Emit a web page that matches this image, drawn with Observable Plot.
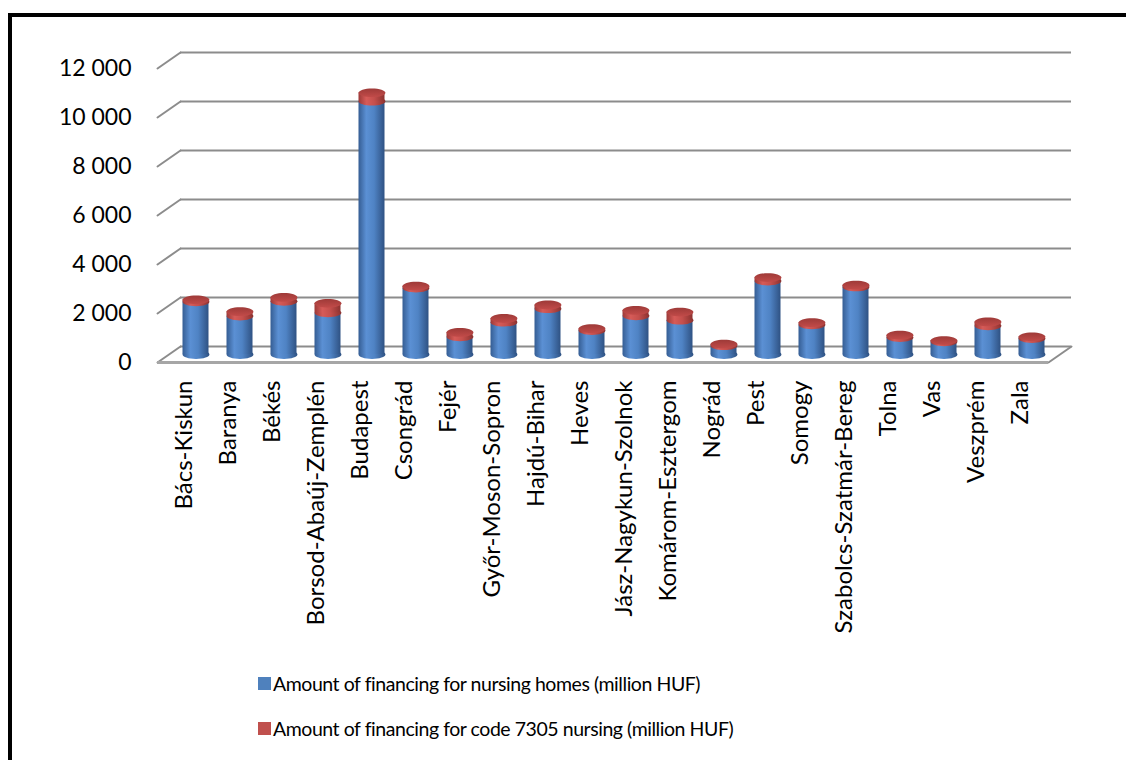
<!DOCTYPE html>
<html>
<head>
<meta charset="utf-8">
<script src="https://cdn.jsdelivr.net/npm/d3@7"></script>
<script src="https://cdn.jsdelivr.net/npm/@observablehq/plot@0.6"></script>
<style>
  html, body { margin: 0; padding: 0; background: #fff; overflow: hidden; width: 1126px; height: 760px; }
  #frame { position: absolute; left: 8px; top: 13px; width: 1200px; height: 800px; border: 4px solid #000; box-sizing: border-box; }
  #chart { position: absolute; left: 0; top: 0; }
  #chart svg { font-family: Lato, sans-serif; }
  #legend { position: absolute; left: 258px; top: 670px; font-family: Lato, sans-serif; font-size: 19.5px; letter-spacing: -0.45px; color: #000; }
  .item { display: flex; align-items: center; height: 26px; margin-bottom: 19px; }
  .sw { width: 13px; height: 13px; margin-right: 2px; }
</style>
</head>
<body>
<svg width="0" height="0" style="position:absolute">
  <defs>
    <linearGradient id="gBlue" x1="0" x2="1" y1="0" y2="0">
      <stop offset="0" stop-color="#355d93"/>
      <stop offset="0.3" stop-color="#5b90d4"/>
      <stop offset="0.6" stop-color="#4f83c4"/>
      <stop offset="1" stop-color="#2f5283"/>
    </linearGradient>
    <linearGradient id="gRed" x1="0" x2="1" y1="0" y2="0">
      <stop offset="0" stop-color="#9b3937"/>
      <stop offset="0.3" stop-color="#d65b58"/>
      <stop offset="0.6" stop-color="#c44f4c"/>
      <stop offset="1" stop-color="#8c3230"/>
    </linearGradient>
    <linearGradient id="gRedTop" x1="0" x2="0" y1="0" y2="1">
      <stop offset="0" stop-color="#9e3a38"/>
      <stop offset="1" stop-color="#c24b49"/>
    </linearGradient>
  </defs>
</svg>
<div id="frame"></div>
<div id="chart"></div>
<div id="legend"></div>
<script>
const counties = ["Bács-Kiskun","Baranya","Békés","Borsod-Abaúj-Zemplén","Budapest","Csongrád","Fejér","Győr-Moson-Sopron","Hajdú-Bihar","Heves","Jász-Nagykun-Szolnok","Komárom-Esztergom","Nográd","Pest","Somogy","Szabolcs-Szatmár-Bereg","Tolna","Vas","Veszprém","Zala"];
const nursingHomes = [2150,1570,2170,1700,10340,2710,720,1320,1870,980,1580,1400,360,3000,1210,2760,690,520,1170,650];
const code7305 = [80,180,160,390,340,80,180,150,150,70,220,330,60,140,90,70,100,50,160,70];
const yTicks = [0,2000,4000,6000,8000,10000,12000];
const seriesNames = ["Amount of financing for nursing homes (million HUF)", "Amount of financing for code 7305 nursing (million HUF)"];
const seriesColors = ["#4f81bd", "#c0504d"];

const rows = counties.map((c, i) => ({county: c, homes: nursingHomes[i], total: nursingHomes[i] + code7305[i]}));

const fmt = d => d3.format(",")(d).replace(/,/g, " ");

// ellipse symbol for cylinder caps
const ellipse = {
  draw(ctx) {
    const rx = 13.4, ry = 4.4, k = 0.5523;
    ctx.moveTo(-rx, 0);
    ctx.bezierCurveTo(-rx, -ry * k, -rx * k, -ry, 0, -ry);
    ctx.bezierCurveTo(rx * k, -ry, rx, -ry * k, rx, 0);
    ctx.bezierCurveTo(rx, ry * k, rx * k, ry, 0, ry);
    ctx.bezierCurveTo(-rx * k, ry, -rx, ry * k, -rx, 0);
    ctx.closePath();
  }
};
const lineShape = { draw(ctx, l) { ctx.moveTo(0, 0); ctx.lineTo(0, -l); } };

const DX = 23, DY = -16;        // depth offset of back wall
const BX = DX / 2, BY = DY / 2; // bars at mid depth
const depthLen = Math.hypot(DX, DY), depthAngle = Math.atan2(DX, -DY) * 180 / Math.PI;
const grid = "#8c8c8c";

const plot = Plot.plot({
  width: 1126,
  height: 650,
  marginLeft: 157,
  marginRight: 78,
  marginTop: 68,
  marginBottom: 288,
  x: {domain: counties, paddingInner: 0.4, paddingOuter: 0.2},
  y: {domain: [0, 12000]},
  marks: [
    // back wall gridlines
    Plot.ruleY(yTicks, {dx: DX, dy: DY, stroke: grid, strokeWidth: 2}),
    // left side diagonals
    Plot.vector(yTicks, {y: d => d, frameAnchor: "left", length: depthLen, rotate: depthAngle, anchor: "start", shape: lineShape, stroke: grid, strokeWidth: 2}),
    // floor: right diagonal and front edge
    Plot.vector([0], {y: d => d, frameAnchor: "right", length: depthLen, rotate: depthAngle, anchor: "start", shape: lineShape, stroke: grid, strokeWidth: 2}),
    Plot.ruleY([0], {stroke: "#a6a6a6", strokeWidth: 3}),
    // cylinders: blue part
    Plot.dot(rows, {x: "county", y: 0, symbol: ellipse, fill: "url(#gBlue)", stroke: "none", dx: BX, dy: BY}),
    Plot.rectY(rows, {x: "county", y1: 0, y2: "homes", fill: "url(#gBlue)", dx: BX, dy: BY}),
    // red part
    Plot.dot(rows, {x: "county", y: "homes", symbol: ellipse, fill: "url(#gRed)", stroke: "none", dx: BX, dy: BY}),
    Plot.rectY(rows, {x: "county", y1: "homes", y2: "total", fill: "url(#gRed)", dx: BX, dy: BY}),
    Plot.dot(rows, {x: "county", y: "total", symbol: ellipse, fill: "url(#gRedTop)", stroke: "none", dx: BX, dy: BY}),
    // axes
    Plot.axisY(yTicks, {tickSize: 0, tickPadding: 26, tickFormat: fmt, fontSize: 23, label: null, fill: "#000"}),
    Plot.axisX({tickRotate: -90, tickSize: 0, tickPadding: 18, fontSize: 24, label: null, fill: "#000"})
  ]
});
document.getElementById("chart").appendChild(plot);

const legend = d3.select("#legend");
seriesNames.forEach((name, i) => {
  const it = legend.append("div").attr("class", "item");
  it.append("div").attr("class", "sw").style("background", seriesColors[i]);
  it.append("span").text(name);
});
</script>
</body>
</html>
